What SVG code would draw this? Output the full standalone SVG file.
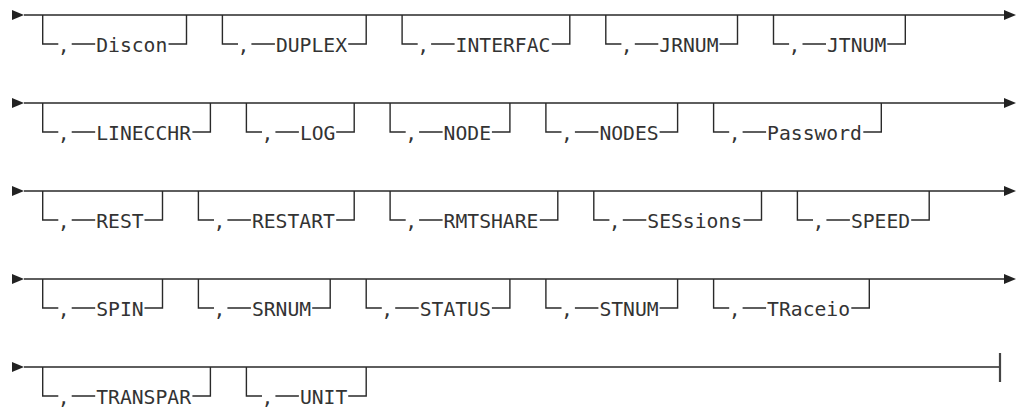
<svg xmlns="http://www.w3.org/2000/svg" width="1018" height="409" viewBox="0 0 1018 409">
<style>
.ln{fill:none;stroke:#2a2a2a;stroke-width:1.4}
.ah{fill:#222;stroke:none}
.bar{stroke:#444;stroke-width:2.2}
.kw{font-family:"DejaVu Sans Mono","Liberation Mono",monospace;font-size:19.7px;fill:#333}
.cm{font-family:"DejaVu Sans Mono","Liberation Mono",monospace;font-size:19.7px;fill:#333;text-anchor:middle}
</style>
<defs>
<polygon id="head" points="0,-5 12,0 0,5" class="ah"/>
</defs>
<g id="connectors">
<path class="ln" d="M24,15 H1005 M24,103 H1005 M24,191 H1005 M24,279 H1005 M24,367 H1000"/>
<use href="#head" x="12" y="15"/><use href="#head" x="1004" y="15"/>
<use href="#head" x="12" y="103"/><use href="#head" x="1004" y="103"/>
<use href="#head" x="12" y="191"/><use href="#head" x="1004" y="191"/>
<use href="#head" x="12" y="279"/><use href="#head" x="1004" y="279"/>
<use href="#head" x="12" y="367"/>
<line class="bar" x1="1000" y1="353" x2="1000" y2="382"/>
</g>
<!-- Row 1 -->
<g id="n-discon" transform="translate(42.7,15)"><path class="ln" d="M0,0 V29 H15.6 M29,29 H52.5 M125.8,29 H143.8 V0"/><text class="cm" x="21" y="37">,</text><text class="kw" x="53.5" y="37">Discon</text></g>
<g id="n-duplex" transform="translate(222.4,15)"><path class="ln" d="M0,0 V29 H15.6 M29,29 H52.5 M125.8,29 H143.8 V0"/><text class="cm" x="21" y="37">,</text><text class="kw" x="53.5" y="37">DUPLEX</text></g>
<g id="n-interfac" transform="translate(402.1,15)"><path class="ln" d="M0,0 V29 H15.6 M29,29 H52.5 M149.7,29 H167.7 V0"/><text class="cm" x="21" y="37">,</text><text class="kw" x="53.5" y="37">INTERFAC</text></g>
<g id="n-jrnum" transform="translate(605.8,15)"><path class="ln" d="M0,0 V29 H15.6 M29,29 H52.5 M113.7,29 H131.7 V0"/><text class="cm" x="21" y="37">,</text><text class="kw" x="53.5" y="37">JRNUM</text></g>
<g id="n-jtnum" transform="translate(773.5,15)"><path class="ln" d="M0,0 V29 H15.6 M29,29 H52.5 M113.8,29 H131.8 V0"/><text class="cm" x="21" y="37">,</text><text class="kw" x="53.5" y="37">JTNUM</text></g>
<!-- Row 2 -->
<g id="n-linecchr" transform="translate(42.7,103)"><path class="ln" d="M0,0 V29 H15.6 M29,29 H52.5 M149.7,29 H167.7 V0"/><text class="cm" x="21" y="37">,</text><text class="kw" x="53.5" y="37">LINECCHR</text></g>
<g id="n-log" transform="translate(246.4,103)"><path class="ln" d="M0,0 V29 H15.6 M29,29 H52.5 M89.8,29 H107.8 V0"/><text class="cm" x="21" y="37">,</text><text class="kw" x="53.5" y="37">LOG</text></g>
<g id="n-node" transform="translate(390.1,103)"><path class="ln" d="M0,0 V29 H15.6 M29,29 H52.5 M101.8,29 H119.8 V0"/><text class="cm" x="21" y="37">,</text><text class="kw" x="53.5" y="37">NODE</text></g>
<g id="n-nodes" transform="translate(545.9,103)"><path class="ln" d="M0,0 V29 H15.6 M29,29 H52.5 M113.7,29 H131.7 V0"/><text class="cm" x="21" y="37">,</text><text class="kw" x="53.5" y="37">NODES</text></g>
<g id="n-password" transform="translate(713.6,103)"><path class="ln" d="M0,0 V29 H15.6 M29,29 H52.5 M149.7,29 H167.7 V0"/><text class="cm" x="21" y="37">,</text><text class="kw" x="53.5" y="37">Password</text></g>
<!-- Row 3 -->
<g id="n-rest" transform="translate(42.7,191)"><path class="ln" d="M0,0 V29 H15.6 M29,29 H52.5 M101.8,29 H119.8 V0"/><text class="cm" x="21" y="37">,</text><text class="kw" x="53.5" y="37">REST</text></g>
<g id="n-restart" transform="translate(198.4,191)"><path class="ln" d="M0,0 V29 H15.6 M29,29 H52.5 M137.8,29 H155.8 V0"/><text class="cm" x="21" y="37">,</text><text class="kw" x="53.5" y="37">RESTART</text></g>
<g id="n-rmtshare" transform="translate(390.1,191)"><path class="ln" d="M0,0 V29 H15.6 M29,29 H52.5 M149.7,29 H167.7 V0"/><text class="cm" x="21" y="37">,</text><text class="kw" x="53.5" y="37">RMTSHARE</text></g>
<g id="n-sessions" transform="translate(593.8,191)"><path class="ln" d="M0,0 V29 H15.6 M29,29 H52.5 M149.7,29 H167.7 V0"/><text class="cm" x="21" y="37">,</text><text class="kw" x="53.5" y="37">SESsions</text></g>
<g id="n-speed" transform="translate(797.4,191)"><path class="ln" d="M0,0 V29 H15.6 M29,29 H52.5 M113.8,29 H131.8 V0"/><text class="cm" x="21" y="37">,</text><text class="kw" x="53.5" y="37">SPEED</text></g>
<!-- Row 4 -->
<g id="n-spin" transform="translate(42.7,279)"><path class="ln" d="M0,0 V29 H15.6 M29,29 H52.5 M101.8,29 H119.8 V0"/><text class="cm" x="21" y="37">,</text><text class="kw" x="53.5" y="37">SPIN</text></g>
<g id="n-srnum" transform="translate(198.4,279)"><path class="ln" d="M0,0 V29 H15.6 M29,29 H52.5 M113.8,29 H131.8 V0"/><text class="cm" x="21" y="37">,</text><text class="kw" x="53.5" y="37">SRNUM</text></g>
<g id="n-status" transform="translate(366.2,279)"><path class="ln" d="M0,0 V29 H15.6 M29,29 H52.5 M125.7,29 H143.7 V0"/><text class="cm" x="21" y="37">,</text><text class="kw" x="53.5" y="37">STATUS</text></g>
<g id="n-stnum" transform="translate(545.9,279)"><path class="ln" d="M0,0 V29 H15.6 M29,29 H52.5 M113.7,29 H131.7 V0"/><text class="cm" x="21" y="37">,</text><text class="kw" x="53.5" y="37">STNUM</text></g>
<g id="n-traceio" transform="translate(713.6,279)"><path class="ln" d="M0,0 V29 H15.6 M29,29 H52.5 M137.7,29 H155.7 V0"/><text class="cm" x="21" y="37">,</text><text class="kw" x="53.5" y="37">TRaceio</text></g>
<!-- Row 5 -->
<g id="n-transpar" transform="translate(42.7,367)"><path class="ln" d="M0,0 V29 H15.6 M29,29 H52.5 M149.7,29 H167.7 V0"/><text class="cm" x="21" y="37">,</text><text class="kw" x="53.5" y="37">TRANSPAR</text></g>
<g id="n-unit" transform="translate(246.4,367)"><path class="ln" d="M0,0 V29 H15.6 M29,29 H52.5 M101.8,29 H119.8 V0"/><text class="cm" x="21" y="37">,</text><text class="kw" x="53.5" y="37">UNIT</text></g>
</svg>
